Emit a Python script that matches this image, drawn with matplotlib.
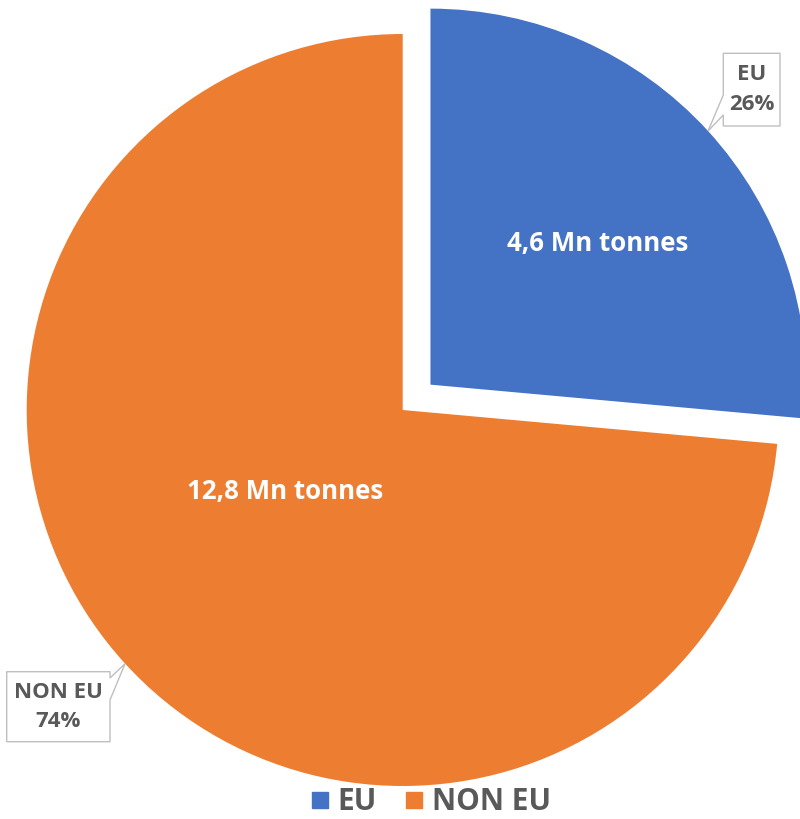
import matplotlib
matplotlib.use("Agg")
import matplotlib.pyplot as plt
from matplotlib.lines import Line2D
from matplotlib.patches import Polygon
import numpy as np

# Data
categories = ["EU", "NON EU"]
tonnes_mn = [4.6, 12.8]
colors = ["#4472C4", "#ED7D31"]
explode = [0.1, 0.0]

TEXT_GREY = "#595959"
FONT = ["Open Sans", "DejaVu Sans"]

W, H = 800, 819
R_PX = 376.0            # pie radius in pixels
CX, CY = 402.7, 410.0   # pie centre in pixels (from top-left)


def px(x, y):
    """Pixel position (from top-left) -> data coordinates."""
    return ((x - CX) / R_PX, (CY - y) / R_PX)


fig = plt.figure(figsize=(W / 100, H / 100), dpi=100)
ax = fig.add_axes([0, 0, 1, 1])

wedges, _ = ax.pie(tonnes_mn, explode=explode, colors=colors, startangle=90,
                   counterclock=False, radius=1.0,
                   wedgeprops=dict(linewidth=0))
ax.set_aspect("auto")
x0, y0 = px(0, H)
x1, y1 = px(W, 0)
ax.set_xlim(x0, x1)
ax.set_ylim(y0, y1)
ax.axis("off")

total = sum(tonnes_mn)

# Value labels inside the slices (polar offset from each wedge's centre)
label_polar = [(0.583, 40.2), (0.381, 214.9)]
for w, v, (r, ang) in zip(wedges, tonnes_mn, label_polar):
    cx, cy = w.center
    a = np.deg2rad(ang)
    ax.text(cx + r * np.cos(a), cy + r * np.sin(a),
            f"{v:.1f}".replace(".", ",") + " Mn tonnes",
            ha="center", va="center", color="white", fontsize=18.6,
            fontweight="bold", family=FONT)

# Callout boxes: (left, top, right, bottom) in px, tail side, tail base span
callouts = [
    dict(box=(723.3, 53.3, 780.0, 126.0), side="left", base=(95, 115)),
    dict(box=(6.7, 671.7, 110.0, 741.7), side="right", base=(678, 700)),
]
for w, v, name, co in zip(wedges, tonnes_mn, categories, callouts):
    cx, cy = w.center
    mid = np.deg2rad((w.theta1 + w.theta2) / 2)
    tip = (cx + np.cos(mid), cy + np.sin(mid))
    l, t, r, b = co["box"]
    b0, b1 = co["base"]
    if co["side"] == "left":
        pts = [px(l, t), px(r, t), px(r, b), px(l, b), px(l, b1), tip, px(l, b0)]
    else:
        pts = [px(l, t), px(r, t), px(r, b0), tip, px(r, b1), px(r, b), px(l, b)]
    ax.add_patch(Polygon(pts, closed=True, facecolor="white",
                         edgecolor="#BFBFBF", linewidth=1.0, zorder=3))
    mx = (l + r) / 2
    pct = round(100 * v / total)
    ax.text(*px(mx, t + (b - t) * 0.29), name, ha="center", va="center",
            color=TEXT_GREY, fontsize=16, fontweight="bold", family=FONT,
            zorder=4)
    ax.text(*px(mx, t + (b - t) * 0.71), f"{pct}%", ha="center", va="center",
            color=TEXT_GREY, fontsize=16, fontweight="bold", family=FONT,
            zorder=4)

# Legend
handles = [Line2D([0], [0], marker="s", linestyle="none", markersize=11,
                  markerfacecolor=c, markeredgecolor=c) for c in colors]
fig.legend(handles, categories, loc="center", ncol=2,
           bbox_to_anchor=(431 / W, 1 - 802 / H), frameon=False,
           handlelength=0.6, handletextpad=0.3, columnspacing=0.95,
           prop=dict(family=FONT, weight="bold", size=21.5),
           labelcolor=TEXT_GREY, borderpad=0)

fig.savefig("out.png", dpi=100)
